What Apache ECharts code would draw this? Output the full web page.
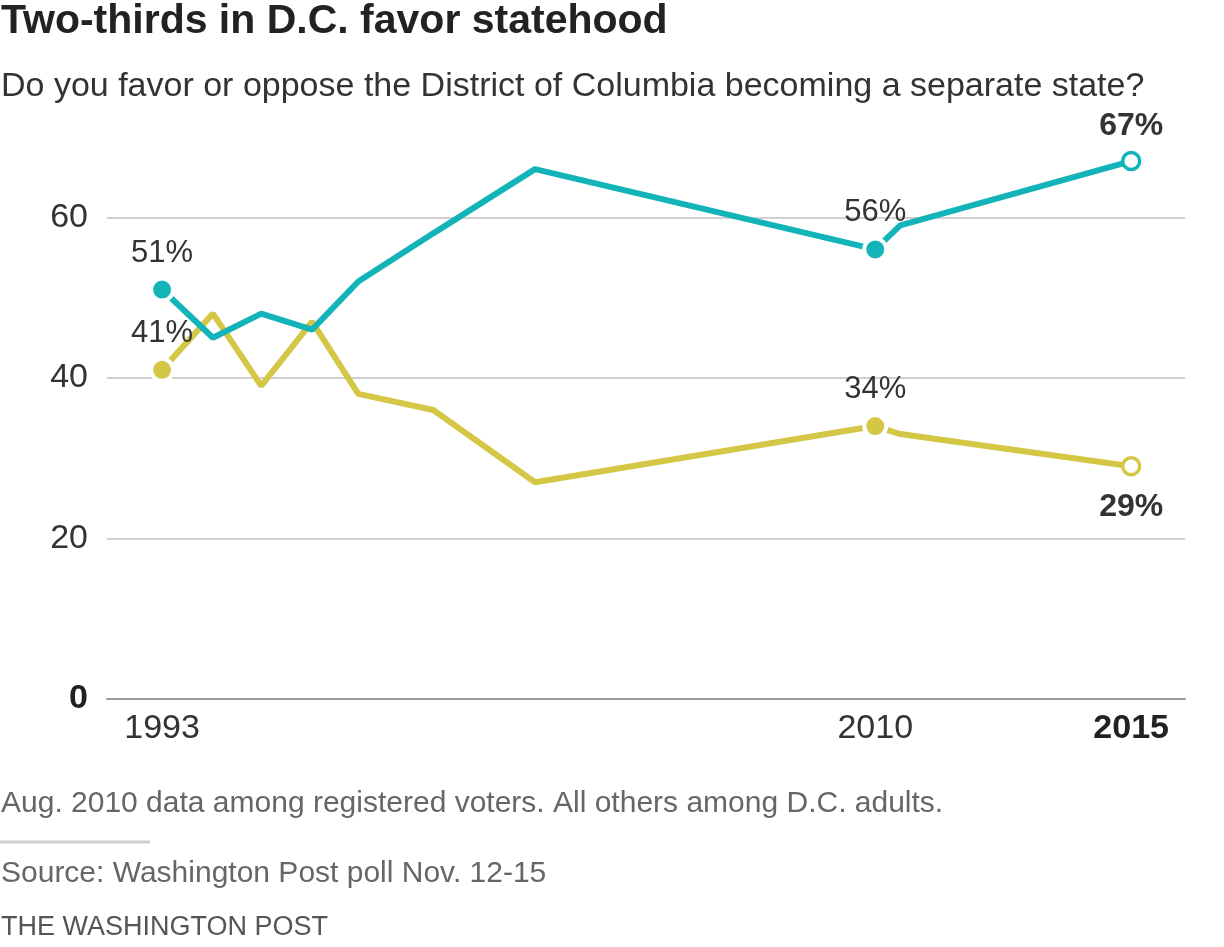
<!DOCTYPE html>
<html>
<head>
<meta charset="utf-8">
<script src="https://cdn.jsdelivr.net/npm/echarts@6/dist/echarts.min.js"></script>
<style>
  html, body { margin: 0; padding: 0; background: #fff; }
  #chart { width: 1224px; height: 947px; }
</style>
</head>
<body>
<div id="chart"></div>
<script>
// ---- Data ----
const pollDates = [1993.0, 1994.2, 1995.34, 1996.54, 1997.63, 1999.4, 2001.8, 2009.83, 2010.42, 2015.87];
const favor =     [51, 45, 48, 46, 52, 58, 66, 56, 59, 67];
const oppose =    [41, 48, 39, 47, 38, 36, 27, 34, 33, 29];
const xTickValues = [1993.0, 2009.83, 2015.87];
const xTickLabels = ['1993', '2010', '2015'];
const yTicks = [0, 20, 40, 60];
const labeledIdx = [0, 7, 9];   // points with a marker and value label

const TEAL = '#12b4b9';
const YELLOW = '#d4c745';
const FONT = '"Liberation Sans", Arial, sans-serif';

function buildData(vals, color, side) {
  return vals.map((v, i) => {
    const item = { value: [pollDates[i], v] };
    const k = labeledIdx.indexOf(i);
    if (k < 0) {
      item.symbol = 'none';
      return item;
    }
    const last = i === vals.length - 1;
    if (last) {
      item.symbolSize = 17;
      item.itemStyle = { color: '#fff', borderColor: color, borderWidth: 3.5 };
    } else {
      item.symbolSize = 22;
      item.itemStyle = { color: color, borderColor: '#fff', borderWidth: 4 };
    }
    const pos = (last && side === 'bottom') ? 'bottom' : 'top';
    item.label = {
      show: true,
      position: pos,
      distance: last ? (pos === 'bottom' ? 15 : 9) : 8,
      formatter: v + '%',
      fontFamily: FONT,
      fontSize: last ? 32 : 31,
      fontWeight: last ? 'bold' : 'normal',
      color: '#333'
    };
    return item;
  });
}

const chart = echarts.init(document.getElementById('chart'), null, { renderer: 'canvas' });

const option = {
  backgroundColor: '#fff',
  animation: false,
  grid: { left: 107, right: 39, top: 137, bottom: 248, containLabel: false },
  xAxis: {
    type: 'value',
    min: 1991.7,
    max: 2017.14,
    axisLine: { show: true, lineStyle: { color: '#999', width: 2 } },
    axisTick: { show: false },
    splitLine: { show: false },
    axisLabel: {
      customValues: xTickValues,
      margin: 13,
      fontFamily: FONT,
      fontSize: 34,
      color: '#333',
      formatter: function (val) {
        let idx = -1;
        xTickValues.forEach((t, i) => { if (Math.abs(t - val) < 1e-6) idx = i; });
        if (idx < 0) return '';
        return idx === xTickValues.length - 1 ? '{b|' + xTickLabels[idx] + '}' : xTickLabels[idx];
      },
      rich: { b: { fontFamily: FONT, fontSize: 34, fontWeight: 'bold', color: '#222' } }
    }
  },
  yAxis: {
    type: 'value',
    min: 0,
    max: 70,
    interval: 20,
    axisLine: { show: false },
    axisTick: { show: false },
    splitLine: { show: true, showMinLine: false, showMaxLine: false, lineStyle: { color: '#d0d0d0', width: 2 } },
    axisLabel: {
      customValues: yTicks,
      margin: 19,
      fontFamily: FONT,
      fontSize: 34,
      color: '#333',
      formatter: function (val) {
        return val === 0 ? '{b|0}' : String(val);
      },
      rich: { b: { fontFamily: FONT, fontSize: 34, fontWeight: 'bold', color: '#222' } }
    }
  },
  series: [
    {
      name: 'Favor',
      type: 'line',
      data: buildData(favor, TEAL, 'top'),
      symbol: 'circle',
      showSymbol: true,
      lineStyle: { color: TEAL, width: 6 },
      itemStyle: { color: TEAL },
      z: 3
    },
    {
      name: 'Oppose',
      type: 'line',
      data: buildData(oppose, YELLOW, 'bottom'),
      symbol: 'circle',
      showSymbol: true,
      lineStyle: { color: YELLOW, width: 6 },
      itemStyle: { color: YELLOW },
      z: 2
    }
  ],
  graphic: [
    { type: 'text', left: 1, top: 1, style: { text: 'Two-thirds in D.C. favor statehood', font: 'bold 41px ' + FONT, fill: '#222' } },
    { type: 'text', left: 1, top: 70, style: { text: 'Do you favor or oppose the District of Columbia becoming a separate state?', font: '34px ' + FONT, fill: '#333' } },
    { type: 'text', left: 1, top: 789, style: { text: 'Aug. 2010 data among registered voters. All others among D.C. adults.', font: '30px ' + FONT, fill: '#666' } },
    { type: 'line', shape: { x1: 0, y1: 842, x2: 150, y2: 842 }, style: { stroke: '#cfcfcf', lineWidth: 3 } },
    { type: 'text', left: 1, top: 859, style: { text: 'Source: Washington Post poll Nov. 12-15', font: '30px ' + FONT, fill: '#666' } },
    { type: 'text', left: 1, top: 914, style: { text: 'THE WASHINGTON POST', font: '27px ' + FONT, fill: '#555' } }
  ]
};

chart.setOption(option);
</script>
</body>
</html>
